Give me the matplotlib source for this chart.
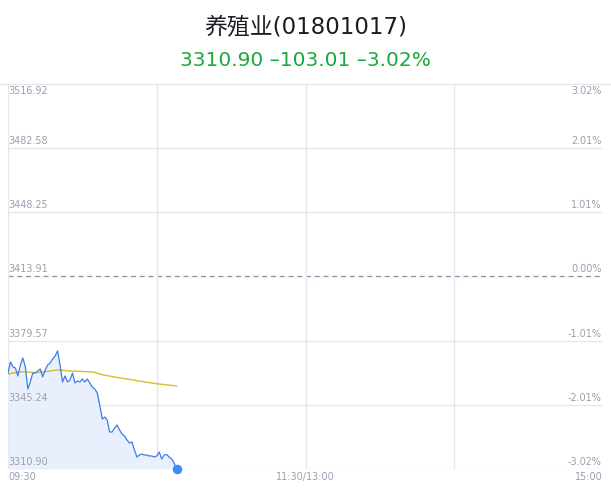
import matplotlib
matplotlib.use('Agg')
import matplotlib.pyplot as plt
from matplotlib.lines import Line2D
import matplotlib.transforms as mtransforms

plt.rcParams['font.family'] = ['DejaVu Sans', 'Noto Sans CJK SC']

title = '养殖业(01801017)'
subtitle = '3310.90 –103.01 –3.02%'
price_ticks = [3310.90, 3345.24, 3379.57, 3413.91, 3448.25, 3482.58, 3516.92]
pct_labels = ['-3.02%', '-2.01%', '-1.01%', '0.00%', '1.01%', '2.01%', '3.02%']
time_ticks = [0, 120, 240]
time_labels = ['09:30', '11:30/13:00', '15:00']
grid_minutes = [60, 120, 180]

price = [3362.27, 3368.16, 3365.48, 3364.95, 3360.67, 3366.55, 3370.30, 3365.48,
         3353.71, 3357.45, 3362.27, 3362.27, 3363.34, 3364.41, 3360.13, 3363.88,
         3366.55, 3367.62, 3369.76, 3371.37, 3374.04, 3366.55, 3357.45, 3360.67,
         3357.45, 3358.53, 3362.27, 3356.92, 3357.99, 3357.45, 3359.06, 3357.45,
         3359.06, 3356.92, 3354.78, 3353.71, 3351.57, 3345.15, 3337.66, 3338.73,
         3337.12, 3330.70, 3330.70, 3332.84, 3334.45, 3331.77, 3329.63, 3328.56,
         3326.42, 3324.81, 3325.35, 3321.07, 3317.32, 3318.39, 3318.93, 3318.39,
         3318.39, 3317.86, 3317.86, 3317.32, 3317.86, 3320.00, 3316.25, 3318.39,
         3318.65, 3317.32, 3316.25, 3314.11, 3310.90]

avg = [3361.74, 3362.00, 3362.27, 3362.54, 3362.81, 3362.81, 3362.91, 3362.91,
       3362.81, 3362.65, 3362.54, 3362.49, 3362.54, 3362.70, 3362.81, 3363.02,
       3363.18, 3363.34, 3363.56, 3363.72, 3363.88, 3363.88, 3363.72, 3363.56,
       3363.45, 3363.34, 3363.34, 3363.24, 3363.18, 3363.13, 3363.07, 3363.02,
       3362.97, 3362.91, 3362.81, 3362.59, 3362.16, 3361.74, 3361.36, 3361.09,
       3360.88, 3360.67, 3360.40, 3360.13, 3359.92, 3359.70, 3359.49, 3359.28,
       3359.06, 3358.85, 3358.63, 3358.42, 3358.20, 3357.99, 3357.78, 3357.56,
       3357.35, 3357.13, 3356.92, 3356.71, 3356.55, 3356.39, 3356.23, 3356.07,
       3355.91, 3355.74, 3355.64, 3355.48, 3355.31]

minutes = list(range(len(price)))

W, H = 611, 492
fig = plt.figure(figsize=(W / 100, H / 100), dpi=100)
fig.patch.set_facecolor('white')

ax = fig.add_axes([8 / W, (H - 469) / H, 595 / W, 385 / H])
ax.set_xlim(0, 240)
ax.set_ylim(price_ticks[0], price_ticks[-1])
for s in ax.spines.values():
    s.set_visible(False)
ax.set_xticks([])
ax.set_yticks([])

grid_c = '#e6e6ee'
label_c = '#9a9eae'

for i, p in enumerate(price_ticks):
    if i == 3:
        ax.axhline(p, color='#8a90a8', lw=0.9, ls=(0, (4, 3)), zorder=1)
    elif i == len(price_ticks) - 1:
        pass
    else:
        ax.axhline(p, color=grid_c, lw=1, zorder=1)
for m in grid_minutes:
    ax.axvline(m, color=grid_c, lw=1, zorder=1)
ax.axvline(0, color=grid_c, lw=1, zorder=1)

# top separator line across the figure
fig.add_artist(Line2D([0, 1], [(H - 83.5) / H] * 2, color=grid_c, lw=1))

trans = mtransforms.blended_transform_factory(ax.transAxes, ax.transData)
fs = 6.9
for i, (p, lab) in enumerate(zip(price_ticks, pct_labels)):
    va = 'top' if i == len(price_ticks) - 1 else 'bottom'
    off = -1.5 if va == 'top' else 1.5
    ax.annotate(f'{p:.2f}', xy=(0, p), xycoords=trans, xytext=(0, off),
                textcoords='offset points', ha='left', va=va,
                fontsize=fs, color=label_c)
    ax.annotate(lab, xy=(1, p), xycoords=trans, xytext=(-1, off),
                textcoords='offset points', ha='right', va=va,
                fontsize=fs, color=label_c)

has = ['left', 'center', 'right']
for t, lab, ha in zip(time_ticks, time_labels, has):
    ax.annotate(lab, xy=(t, price_ticks[0]), xycoords='data', xytext=(0, -2),
                textcoords='offset points', ha=ha, va='top',
                fontsize=fs, color=label_c, annotation_clip=False)

ax.fill_between(minutes, price, price_ticks[0], color='#e9effc', zorder=2, lw=0)
ax.plot(minutes, price, color='#3b7ee8', lw=0.9, zorder=4)
ax.plot(minutes, avg, color='#d8bb2e', lw=1.0, zorder=3)
ax.scatter([minutes[-1]], [price[-1]], s=34, color='#3a8ef5', zorder=5, clip_on=False)

fig.text(0.5, 1 - 26.5 / H, title, ha='center', va='center', fontsize=16.5, color='#1c1c24')
fig.text(0.5, 1 - 61 / H, subtitle, ha='center', va='center', fontsize=14.5, color='#1ca83c')

fig.savefig('out.png', dpi=100, facecolor='white')
